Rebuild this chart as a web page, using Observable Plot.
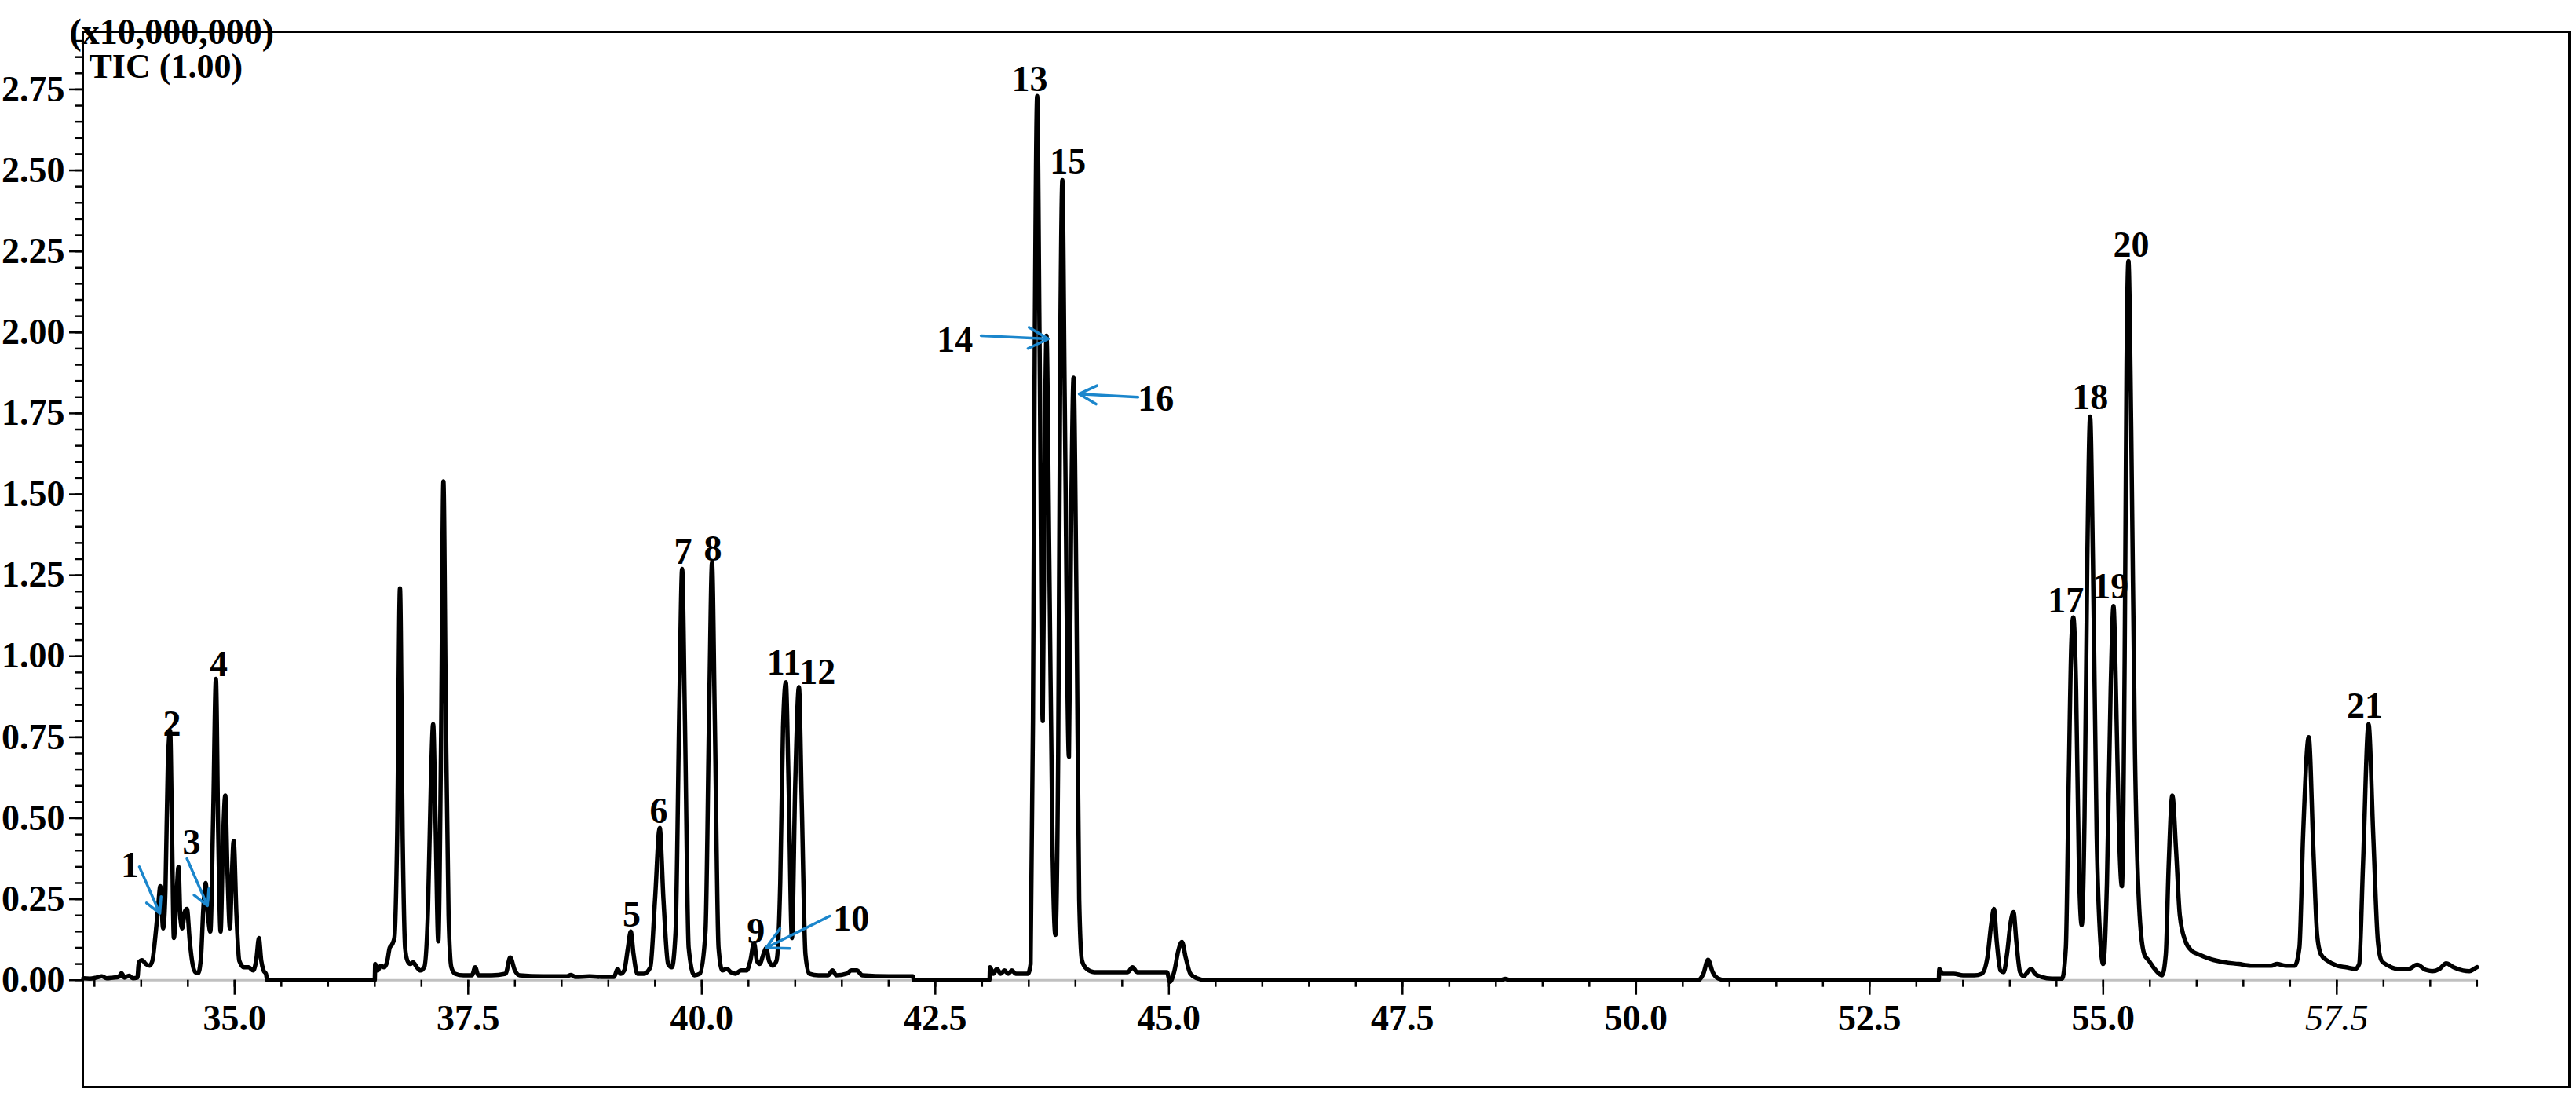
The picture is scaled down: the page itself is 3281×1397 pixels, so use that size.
<!DOCTYPE html>
<html>
<head>
<meta charset="utf-8">
<script src="https://cdn.jsdelivr.net/npm/d3@7"></script>
<script src="https://cdn.jsdelivr.net/npm/@observablehq/plot@0.6"></script>
<style>
  html, body { margin: 0; padding: 0; background: #fff; }
  #chart svg { display: block; }
</style>
</head>
<body>
<div id="chart"></div>
<script>
// ---- Chromatogram trace (retention time in min, intensity in x10,000,000) ----
const times = [
  33.38, 33.45, 33.52, 33.58, 33.63, 33.70, 33.76, 33.79, 33.82, 33.87, 33.91, 33.96,
  33.975, 34.01, 34.05, 34.09, 34.12, 34.15, 34.18, 34.205, 34.235, 34.26, 34.285, 34.31,
  34.33, 34.35, 34.375, 34.40, 34.42, 34.44, 34.465, 34.49, 34.52, 34.55, 34.58, 34.61,
  34.64, 34.665, 34.69, 34.715, 34.74, 34.77, 34.80, 34.825, 34.85, 34.875, 34.90, 34.925,
  34.95, 34.97, 34.99, 35.02, 35.05, 35.10, 35.15, 35.20, 35.235, 35.26, 35.285, 35.31,
  35.335, 35.35,
  36.50, 36.505, 36.53, 36.565, 36.60, 36.635, 36.66, 36.685, 36.71, 36.74, 36.77, 36.80,
  36.825, 36.85, 36.88, 36.91, 36.95, 36.99, 37.03, 37.07, 37.10, 37.125, 37.15, 37.18,
  37.21, 37.235, 37.26, 37.29, 37.32, 37.36, 37.45, 37.54, 37.575, 37.61, 37.75, 37.90,
  37.95, 38.00, 38.05, 38.30, 38.55, 38.60, 38.65, 38.80, 38.95, 39.06, 39.10, 39.13,
  39.17, 39.21, 39.24, 39.27, 39.31, 39.38, 39.45, 39.50, 39.55, 39.59, 39.64, 39.68,
  39.72, 39.76, 39.79, 39.82, 39.86, 39.92, 39.98, 40.04, 40.08, 40.11, 40.14, 40.18,
  40.22, 40.27, 40.31, 40.36, 40.42, 40.48, 40.52, 40.56, 40.59, 40.62, 40.66, 40.69,
  40.72, 40.76, 40.80, 40.84, 40.87, 40.90, 40.93, 40.965, 41.00, 41.04, 41.07, 41.11,
  41.15, 41.25, 41.35, 41.40, 41.44, 41.55, 41.60, 41.66, 41.72, 42.00, 42.26, 42.27,
  43.08, 43.085, 43.12, 43.16, 43.20, 43.24, 43.28, 43.32, 43.36, 43.43, 43.49, 43.52,
  43.545, 43.565, 43.59, 43.615, 43.65, 43.67, 43.69, 43.72, 43.755, 43.785, 43.815, 43.84,
  43.86, 43.885, 43.93, 43.955, 43.98, 44.01, 44.04, 44.07, 44.12, 44.20, 44.40, 44.56,
  44.61, 44.66, 44.80, 44.98, 45.01, 45.06, 45.10, 45.14, 45.18, 45.23, 45.30, 45.40,
  48.55, 48.60, 48.65, 50.66, 50.72, 50.77, 50.82, 50.88, 50.95,
  53.24, 53.245, 53.28, 53.40, 53.50, 53.62, 53.70, 53.76, 53.80, 53.83, 53.86, 53.90,
  53.935, 53.97, 54.01, 54.04, 54.07, 54.11, 54.15, 54.19, 54.23, 54.27, 54.34, 54.45,
  54.56, 54.60, 54.63, 54.66, 54.68, 54.71, 54.74, 54.77, 54.80, 54.83, 54.86, 54.89,
  54.93, 54.97, 55.00, 55.04, 55.08, 55.11, 55.14, 55.17, 55.20, 55.23, 55.25, 55.27,
  55.30, 55.34, 55.39, 55.44, 55.49, 55.55, 55.63, 55.67, 55.70, 55.74, 55.78, 55.82,
  55.88, 55.95, 56.02, 56.15, 56.30, 56.45, 56.58, 56.70, 56.80, 56.86, 56.95, 57.05,
  57.10, 57.14, 57.20, 57.25, 57.29, 57.33, 57.40, 57.50, 57.60, 57.70, 57.74, 57.78,
  57.84, 57.89, 57.94, 57.98, 58.05, 58.15, 58.27, 58.36, 58.45, 58.52, 58.60, 58.67,
  58.75, 58.85, 58.92, 58.97, 59.00
];
const intensities = [
  0.006, 0.005, 0.008, 0.012, 0.006, 0.008, 0.010, 0.022, 0.008, 0.014, 0.006, 0.008,
  0.055, 0.062, 0.050, 0.045, 0.060, 0.130, 0.220, 0.290, 0.160, 0.280, 0.660, 0.770,
  0.450, 0.130, 0.240, 0.350, 0.190, 0.160, 0.210, 0.220, 0.120, 0.050, 0.025, 0.022,
  0.070, 0.220, 0.300, 0.200, 0.150, 0.500, 0.930, 0.450, 0.150, 0.420, 0.570, 0.320,
  0.160, 0.320, 0.430, 0.200, 0.060, 0.040, 0.040, 0.030, 0.070, 0.130, 0.060, 0.030,
  0.020, 0.000,
  0.000, 0.050, 0.030, 0.045, 0.040, 0.060, 0.100, 0.110, 0.130, 0.450, 1.210, 0.420,
  0.100, 0.060, 0.050, 0.055, 0.040, 0.030, 0.040, 0.220, 0.600, 0.790, 0.500, 0.120,
  0.750, 1.540, 0.850, 0.200, 0.040, 0.020, 0.015, 0.015, 0.040, 0.015, 0.015, 0.020,
  0.070, 0.030, 0.015, 0.012, 0.012, 0.016, 0.010, 0.012, 0.010, 0.010, 0.035, 0.020,
  0.030, 0.100, 0.150, 0.080, 0.020, 0.020, 0.040, 0.250, 0.470, 0.250, 0.050, 0.040,
  0.150, 0.850, 1.270, 0.800, 0.100, 0.015, 0.020, 0.150, 0.850, 1.290, 0.800, 0.100,
  0.030, 0.035, 0.025, 0.020, 0.030, 0.030, 0.060, 0.115, 0.060, 0.050, 0.080, 0.100,
  0.060, 0.045, 0.060, 0.300, 0.780, 0.920, 0.600, 0.130, 0.600, 0.905, 0.550, 0.080,
  0.020, 0.015, 0.015, 0.030, 0.015, 0.020, 0.030, 0.030, 0.015, 0.012, 0.012, 0.000,
  0.000, 0.040, 0.020, 0.035, 0.020, 0.030, 0.020, 0.030, 0.020, 0.020, 0.020, 0.050,
  0.800, 2.000, 2.730, 2.000, 0.800, 1.550, 1.990, 1.300, 0.400, 0.140, 0.700, 2.050,
  2.470, 1.800, 0.690, 1.450, 1.860, 1.200, 0.250, 0.060, 0.035, 0.025, 0.025, 0.025,
  0.040, 0.025, 0.025, 0.025, -0.005, 0.030, 0.090, 0.118, 0.070, 0.020, 0.006, 0.000,
  0.000, 0.004, 0.000, 0.000, 0.020, 0.063, 0.025, 0.005, 0.000,
  0.000, 0.035, 0.020, 0.020, 0.015, 0.015, 0.020, 0.070, 0.170, 0.220, 0.120, 0.030,
  0.025, 0.080, 0.180, 0.210, 0.120, 0.025, 0.012, 0.025, 0.035, 0.020, 0.010, 0.005,
  0.005, 0.100, 0.600, 1.050, 1.120, 0.900, 0.350, 0.170, 0.500, 1.300, 1.740, 1.300,
  0.450, 0.120, 0.050, 0.300, 0.900, 1.155, 0.850, 0.450, 0.290, 1.000, 1.900, 2.220,
  1.700, 0.700, 0.200, 0.080, 0.060, 0.035, 0.015, 0.080, 0.350, 0.570, 0.400, 0.200,
  0.120, 0.090, 0.080, 0.065, 0.055, 0.050, 0.045, 0.045, 0.045, 0.050, 0.045, 0.045,
  0.100, 0.450, 0.750, 0.400, 0.140, 0.080, 0.060, 0.045, 0.040, 0.035, 0.050, 0.350,
  0.790, 0.450, 0.120, 0.060, 0.045, 0.035, 0.035, 0.048, 0.032, 0.028, 0.035, 0.052,
  0.040, 0.030, 0.028, 0.035, 0.040
];

// ---- Peak labels ----
const peakLabels = ["1","2","3","4","5","6","7","8","9","10","11","12","13","14","15","16","17","18","19","20","21"];
const labelTimes = [33.88, 34.33, 34.54, 34.83, 39.25, 39.54, 39.80, 40.12, 40.58, 41.60, 40.88, 41.24, 43.51, 42.71, 43.92, 44.86, 54.60, 54.86, 55.08, 55.30, 57.80];
const labelValues = [0.355, 0.79, 0.425, 0.975, 0.20, 0.52, 1.32, 1.33, 0.15, 0.19, 0.98, 0.95, 2.78, 1.975, 2.525, 1.795, 1.17, 1.80, 1.215, 2.27, 0.845];

// ---- Blue annotation arrows (start -> tip) ----
const arrowStartTimes = [33.98, 34.49, 41.37, 42.99, 44.67];
const arrowStartValues = [0.35, 0.375, 0.198, 1.99, 1.80];
const arrowEndTimes = [34.20, 34.71, 40.69, 43.71, 44.04];
const arrowEndValues = [0.206, 0.23, 0.10, 1.98, 1.81];

// ---- Axis ticks ----
const xMinorTicks = [33.5, 34.0, 34.5, 35.0, 35.5, 36.0, 36.5, 37.0, 37.5, 38.0, 38.5, 39.0, 39.5, 40.0, 40.5, 41.0, 41.5, 42.0, 42.5, 43.0, 43.5, 44.0, 44.5, 45.0, 45.5, 46.0, 46.5, 47.0, 47.5, 48.0, 48.5, 49.0, 49.5, 50.0, 50.5, 51.0, 51.5, 52.0, 52.5, 53.0, 53.5, 54.0, 54.5, 55.0, 55.5, 56.0, 56.5, 57.0, 57.5, 58.0, 58.5, 59.0];
const xMajorTicks = [35.0, 37.5, 40.0, 42.5, 45.0, 47.5, 50.0, 52.5, 55.0, 57.5];
const xTickLabels = ["35.0", "37.5", "40.0", "42.5", "45.0", "47.5", "50.0", "52.5", "55.0", "57.5"];
const yMajorTicks = [0.00, 0.25, 0.50, 0.75, 1.00, 1.25, 1.50, 1.75, 2.00, 2.25, 2.50, 2.75];
const yTickLabels = ["0.00", "0.25", "0.50", "0.75", "1.00", "1.25", "1.50", "1.75", "2.00", "2.25", "2.50", "2.75"];
const yMinorTicks = [0.00, 0.05, 0.10, 0.15, 0.20, 0.25, 0.30, 0.35, 0.40, 0.45, 0.50, 0.55, 0.60, 0.65, 0.70, 0.75, 0.80, 0.85, 0.90, 0.95, 1.00, 1.05, 1.10, 1.15, 1.20, 1.25, 1.30, 1.35, 1.40, 1.45, 1.50, 1.55, 1.60, 1.65, 1.70, 1.75, 1.80, 1.85, 1.90, 1.95, 2.00, 2.05, 2.10, 2.15, 2.20, 2.25, 2.30, 2.35, 2.40, 2.45, 2.50, 2.55, 2.60, 2.65, 2.70, 2.75, 2.80, 2.85, 2.90];
const scaleNote = "(x10,000,000)";
const traceName = "TIC (1.00)";

// ---- Build tables ----
const trace = times.map((t, i) => ({t, v: intensities[i]}));
const labels = peakLabels.map((s, i) => ({s, t: labelTimes[i], v: labelValues[i]}));
const arrows = arrowStartTimes.map((t, i) => ({t1: t, v1: arrowStartValues[i], t2: arrowEndTimes[i], v2: arrowEndValues[i]}));
const xTicks = xMajorTicks.map((t, i) => ({t, s: xTickLabels[i]}));
const yLabelOf = new Map(yMajorTicks.map((v, i) => [v, yTickLabels[i]]));

const serif = "'Liberation Serif', 'Times New Roman', Times, serif";
const xStart = 33.3756, xEnd = 59.989, traceEnd = times[times.length - 1];

const chart = Plot.plot({
  width: 3281,
  height: 1397,
  marginLeft: 105,
  marginTop: 40,
  marginRight: 9,
  marginBottom: 13,
  style: {fontFamily: serif, fontWeight: "bold", fontSize: "46px", background: "white", color: "black", overflow: "visible"},
  x: {domain: [xStart, xEnd], axis: null},
  y: {domain: [-0.3304, 2.928]},
  marks: [
    Plot.axisY(yMinorTicks, {anchor: "left", tickSize: 10, text: null, strokeWidth: 2.5, label: null}),
    Plot.axisY(yMajorTicks, {anchor: "left", tickSize: 17, tickPadding: 6, tickFormat: (d) => yLabelOf.get(d), strokeWidth: 2.5, fontSize: 46, fontWeight: "bold", label: null}),
    Plot.ruleY([0], {x1: xStart, x2: traceEnd, stroke: "#c0c0c0", strokeWidth: 3}),
    Plot.ruleX(xMinorTicks, {x: (d) => d, y1: 0, y2: 0, insetBottom: -9, stroke: "black", strokeWidth: 2.5}),
    Plot.ruleX(xMajorTicks, {x: (d) => d, y1: 0, y2: 0, insetBottom: -19, stroke: "black", strokeWidth: 2.5}),
    Plot.text(xTicks.filter((d) => d.s !== "57.5"), {x: "t", y: 0, dy: 49, text: "s", fontSize: 46, fontWeight: "bold"}),
    Plot.text(xTicks.filter((d) => d.s === "57.5"), {x: "t", y: 0, dy: 49, text: "s", fontSize: 46, fontWeight: "normal", fontStyle: "italic"}),
    Plot.line(trace, {x: "t", y: "v", stroke: "black", strokeWidth: 5.5, curve: "monotone-x", strokeLinejoin: "round", strokeLinecap: "round"}),
    Plot.arrow(arrows, {x1: "t1", y1: "v1", x2: "t2", y2: "v2", stroke: "#1b86cc", strokeWidth: 3.5, headLength: 38, headAngle: 56}),
    Plot.text(labels, {x: "t", y: "v", text: "s", fontSize: 46, fontWeight: "bold", fill: "black"}),
    Plot.frame({stroke: "black", strokeWidth: 3}),
    Plot.text([scaleNote], {frameAnchor: "top-left", text: (d) => d, textAnchor: "start", dx: -17, dy: -17, fontSize: 46, fontWeight: "bold"}),
    Plot.text([traceName], {frameAnchor: "top-left", text: (d) => d, textAnchor: "start", dx: 8, dy: 27, fontSize: 44, fontWeight: "bold"})
  ]
});

document.getElementById("chart").appendChild(chart);
</script>
</body>
</html>
